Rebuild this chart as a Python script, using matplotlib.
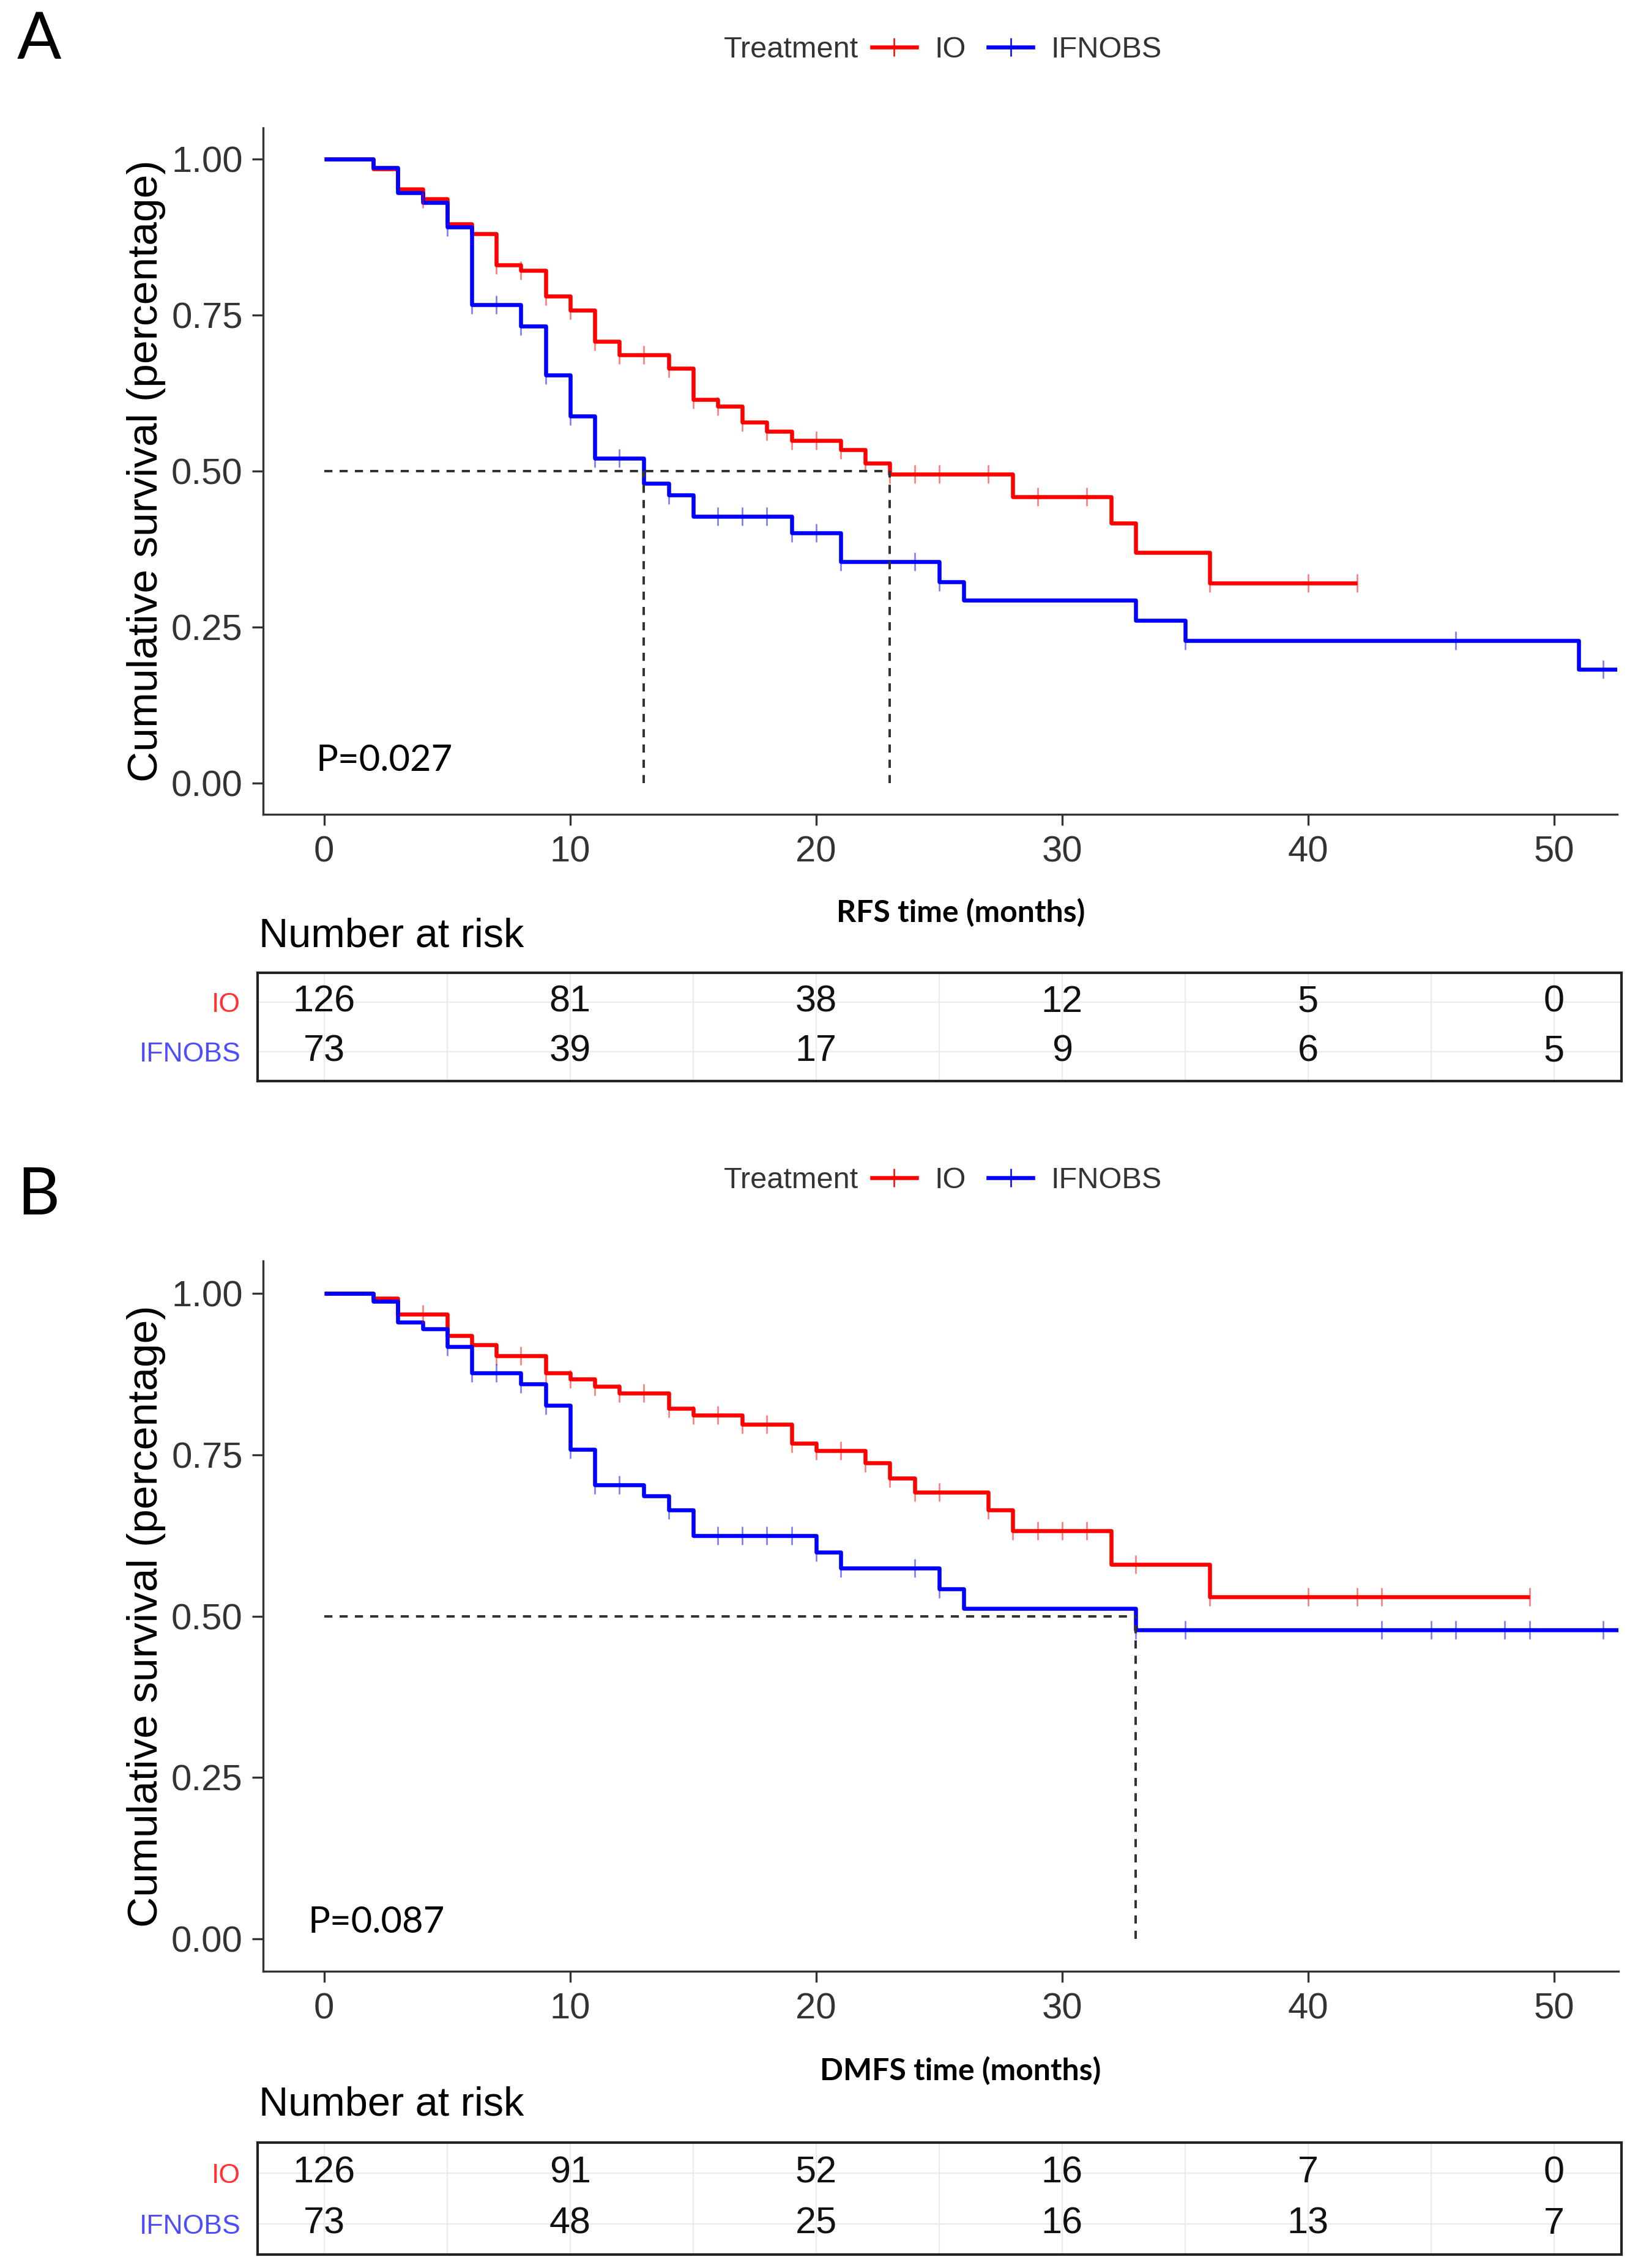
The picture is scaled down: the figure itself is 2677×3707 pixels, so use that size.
import numpy as np
import matplotlib
matplotlib.use("Agg")
import matplotlib.pyplot as plt
from matplotlib.lines import Line2D
from matplotlib.ticker import MultipleLocator

plt.rcParams['font.family'] = ['Liberation Sans', 'DejaVu Sans']

W, H = 2677, 3707
DPI = 100

# ---------------- data ----------------
groups = ["IO", "IFNOBS"]
group_colors = ["#FF0000", "#0000FF"]
risk_label_colors = ["#FF3333", "#4D4DFF"]

# Panel A: RFS
rfs_io_time = [0, 2, 3, 4, 5, 6, 7, 8, 9, 10, 11, 12, 14, 15, 16, 17, 18, 19, 21, 22, 23, 28, 32, 33, 36]
rfs_io_surv = [1.0, 0.984, 0.952, 0.936, 0.896, 0.880, 0.830, 0.822, 0.780, 0.758, 0.708, 0.686,
               0.665, 0.615, 0.604, 0.578, 0.564, 0.549, 0.534, 0.513, 0.495, 0.459, 0.417, 0.370, 0.321]
rfs_io_end = 42
rfs_io_cens = [4, 7, 8, 9, 10, 11, 12, 13, 14, 15, 16, 17, 18, 19, 20, 21, 22, 23, 24, 25, 27, 29, 31, 36, 40, 42]

rfs_ifn_time = [0, 2, 3, 4, 5, 6, 8, 9, 10, 11, 13, 14, 15, 19, 21, 25, 26, 33, 35, 51]
rfs_ifn_surv = [1.0, 0.986, 0.946, 0.930, 0.891, 0.767, 0.732, 0.654, 0.588, 0.521, 0.480, 0.462,
                0.427, 0.401, 0.355, 0.323, 0.293, 0.261, 0.228, 0.182]
rfs_ifn_end = 52.8
rfs_ifn_cens = [5, 6, 7, 8, 9, 10, 11, 12, 14, 16, 17, 18, 19, 20, 21, 24, 25, 35, 46, 52]

# Panel B: DMFS
dmfs_io_time = [0, 2, 3, 5, 6, 7, 9, 10, 11, 12, 14, 15, 17, 19, 20, 22, 23, 24, 27, 28, 32, 36]
dmfs_io_surv = [1.0, 0.992, 0.968, 0.934, 0.920, 0.903, 0.877, 0.867, 0.856, 0.845, 0.822, 0.811,
                0.797, 0.768, 0.756, 0.737, 0.714, 0.692, 0.664, 0.632, 0.580, 0.530]
dmfs_io_end = 49
dmfs_io_cens = [4, 7, 8, 9, 10, 11, 12, 13, 14, 15, 16, 17, 18, 19, 20, 21, 22, 23, 24, 25, 27, 28,
                29, 30, 31, 33, 36, 40, 42, 43, 49]

dmfs_ifn_time = [0, 2, 3, 4, 5, 6, 8, 9, 10, 11, 13, 14, 15, 20, 21, 25, 26, 33]
dmfs_ifn_surv = [1.0, 0.987, 0.955, 0.945, 0.917, 0.877, 0.860, 0.826, 0.758, 0.703, 0.686, 0.664,
                 0.625, 0.599, 0.574, 0.542, 0.512, 0.479]
dmfs_ifn_end = 52.8
dmfs_ifn_cens = [5, 6, 7, 8, 9, 10, 11, 12, 14, 16, 17, 18, 19, 20, 21, 24, 25, 33, 35, 43, 45, 46, 48, 49, 52]

# Numbers at risk
risk_times = [0, 10, 20, 30, 40, 50]
rfs_risk_io = [126, 81, 38, 12, 5, 0]
rfs_risk_ifn = [73, 39, 17, 9, 6, 5]
dmfs_risk_io = [126, 91, 52, 16, 7, 0]
dmfs_risk_ifn = [73, 48, 25, 16, 13, 7]

x_ticks = [0, 10, 20, 30, 40, 50]
y_ticks = [0.0, 0.25, 0.50, 0.75, 1.00]
y_ticklabels = ["0.00", "0.25", "0.50", "0.75", "1.00"]

# ---------------- layout helpers ----------------
fig = plt.figure(figsize=(W / DPI, H / DPI), dpi=DPI)


def rect(l, t, r, b):
    return [l / W, 1 - b / H, (r - l) / W, (b - t) / H]


X0_PX, PX_PER_MONTH = 529.7, 40.2


def xlim_for(l, r):
    return ((l - X0_PX) / PX_PER_MONTH, (r - X0_PX) / PX_PER_MONTH)


TXT = "#333333"
SPINE = "#333333"


def step_value(times, surv, t):
    idx = np.searchsorted(np.asarray(times, float), t, side="right") - 1
    return np.asarray(surv)[idx]


def median_time(times, surv):
    for t, s in zip(times, surv):
        if s <= 0.5:
            return t
    return None


def draw_panel(box, tab_box, curves, risk, xlabel, xlabel_y, pval, pval_xy,
               legend_y, letter, letter_y, nar_y):
    l, t, r, b = box
    ax = fig.add_axes(rect(l, t, r, b))
    ax.set_xlim(*xlim_for(l, r))
    ax.set_ylim(-0.05, 1.05)

    medians = []
    for (times, surv, end, cens), color in zip(curves, group_colors):
        tt = list(times) + [end]
        ss = list(surv) + [surv[-1]]
        ax.step(tt, ss, where="post", color=color, lw=4.7,
                solid_capstyle="butt", solid_joinstyle="round", zorder=3)
        cy = [step_value(times, surv, c) for c in cens]
        ax.plot(cens, cy, linestyle="none", marker="|", markersize=21,
                markeredgewidth=1.8, color=color, alpha=0.55, zorder=4)
        medians.append(median_time(times, surv))

    meds = [m for m in medians if m is not None]
    if meds:
        dash = (0, (3.3, 2.9))
        ax.plot([0, max(meds)], [0.5, 0.5], color="#333333", lw=2.9, linestyle=dash, zorder=5)
        for m in meds:
            ax.plot([m, m], [0, 0.5], color="#333333", lw=2.9, linestyle=dash, zorder=5)

    for side in ("top", "right"):
        ax.spines[side].set_visible(False)
    for side in ("left", "bottom"):
        ax.spines[side].set_color(SPINE)
        ax.spines[side].set_linewidth(2.4)
    ax.set_xticks(x_ticks)
    ax.set_yticks(y_ticks)
    ax.set_yticklabels(y_ticklabels)
    ax.tick_params(axis="both", length=13, width=2.4, color=SPINE, labelsize=43,
                   labelcolor=TXT)
    ax.tick_params(axis="x", pad=12)
    ax.tick_params(axis="y", pad=11)

    ax.set_ylabel("Cumulative survival (percentage)", fontsize=50, color="black", va="center")
    ax.yaxis.set_label_coords((239 - l) / (r - l), 0.5)
    ax.set_xlabel(xlabel, fontsize=36, fontweight="bold", family=["Lato", "DejaVu Sans"],
                  color="black", va="center")
    ax.xaxis.set_label_coords((1570 - l) / (r - l), -(xlabel_y - b) / (b - t))

    ax.text(pval_xy[0], pval_xy[1], pval, fontsize=43, family=["Lato", "DejaVu Sans"],
            ha="left", va="center", color="black")

    # legend
    fig.text(1183 / W, 1 - legend_y / H, "Treatment", fontsize=35, ha="left", va="center",
             color=TXT)
    handles = [Line2D([], [], color=c, lw=4.7, marker="|", markersize=21, markeredgewidth=1.8)
               for c in group_colors]
    fig.legend(handles, groups, loc="center left", bbox_to_anchor=(1425 / W, 1 - legend_y / H),
               ncol=2, frameon=False, borderpad=0, borderaxespad=0, handlelength=1.5,
               handletextpad=0.6, columnspacing=0.76, prop={"size": 35},
               labelcolor=TXT)

    fig.text(28 / W, 1 - letter_y / H, letter, fontsize=77, family=["Lato", "DejaVu Sans"],
             ha="left", va="center", color="black")

    fig.text(423 / W, 1 - nar_y / H, "Number at risk", fontsize=48, ha="left", va="center",
             color="black")

    # risk table
    tl, tt_, tr, tb = tab_box
    axt = fig.add_axes(rect(tl, tt_, tr, tb))
    axt.set_xlim(*xlim_for(tl, tr))
    axt.set_ylim(0.4, 2.6)
    axt.xaxis.set_major_locator(MultipleLocator(10))
    axt.xaxis.set_minor_locator(MultipleLocator(5))
    axt.grid(True, which="both", axis="x", color="#EBEBEB", lw=1.6)
    axt.set_yticks([2, 1])
    axt.grid(True, which="major", axis="y", color="#EBEBEB", lw=1.6)
    axt.set_axisbelow(True)
    axt.set_yticklabels(groups, fontsize=32)
    for lab, c in zip(axt.get_yticklabels(), risk_label_colors):
        lab.set_color(c)
    axt.tick_params(axis="y", length=0, pad=20)
    axt.tick_params(axis="x", which="both", length=0, labelbottom=False)
    for sp in axt.spines.values():
        sp.set_color("#222222")
        sp.set_linewidth(3.0)
    for row, vals in zip([2, 1], risk):
        for tx, v in zip(risk_times, vals):
            axt.text(tx, row, str(v), fontsize=44, ha="center", va="center", color="#111111")


draw_panel((430, 209, 2643, 1331), (421, 1590, 2650, 1767),
           [(rfs_io_time, rfs_io_surv, rfs_io_end, rfs_io_cens),
            (rfs_ifn_time, rfs_ifn_surv, rfs_ifn_end, rfs_ifn_cens)],
           [rfs_risk_io, rfs_risk_ifn], "RFS time (months)", 1492, "P=0.027", (-0.34, 0.036),
           82, "A", 66, 1530)

draw_panel((430, 2061, 2645, 3222), (421, 3502, 2650, 3685),
           [(dmfs_io_time, dmfs_io_surv, dmfs_io_end, dmfs_io_cens),
            (dmfs_ifn_time, dmfs_ifn_surv, dmfs_ifn_end, dmfs_ifn_cens)],
           [dmfs_risk_io, dmfs_risk_ifn], "DMFS time (months)", 3385, "P=0.087", (-0.66, 0.026),
           1930, "B", 1955, 3440)

fig.savefig("out.png", dpi=DPI, facecolor="white")
